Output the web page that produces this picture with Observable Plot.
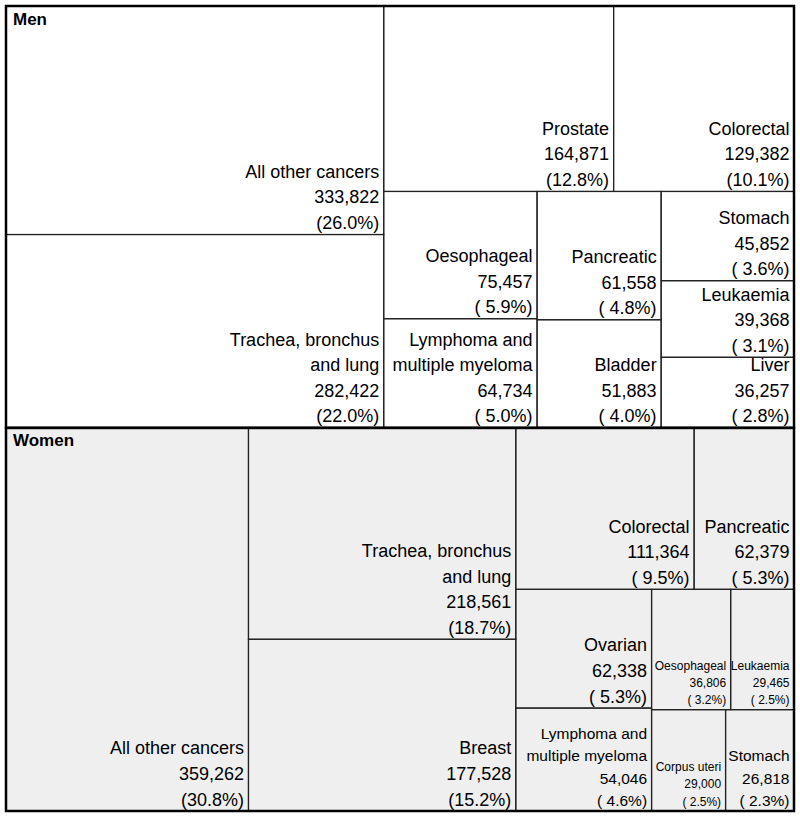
<!DOCTYPE html>
<html>
<head>
<meta charset="utf-8">
<script src="https://cdn.jsdelivr.net/npm/d3@7"></script>
<script src="https://cdn.jsdelivr.net/npm/@observablehq/plot@0.6"></script>
<style>
  body { margin: 0; background: #fff; }
</style>
</head>
<body>
<div id="chart"></div>
<script>
// ---- Data -------------------------------------------------------------
const panels = ["Men", "Women"];

const menCancers = ["All other cancers", "Trachea, bronchus\nand lung", "Prostate", "Colorectal",
  "Oesophageal", "Lymphoma and\nmultiple myeloma", "Pancreatic", "Bladder",
  "Stomach", "Leukaemia", "Liver"];
const menDeaths = [333822, 282422, 164871, 129382, 75457, 64734, 61558, 51883, 45852, 39368, 36257];
const menShares = [26.0, 22.0, 12.8, 10.1, 5.9, 5.0, 4.8, 4.0, 3.6, 3.1, 2.8];
// grouping path of each cell inside the panel (nesting of the treemap)
const menGroups = ["a", "a", "b/a", "b/a", "b/b/a", "b/b/a", "b/b/b", "b/b/b", "b/b/c", "b/b/c", "b/b/c"];

const womenCancers = ["All other cancers", "Trachea, bronchus\nand lung", "Breast", "Colorectal",
  "Pancreatic", "Ovarian", "Lymphoma and\nmultiple myeloma", "Oesophageal", "Leukaemia",
  "Corpus uteri", "Stomach"];
const womenDeaths = [359262, 218561, 177528, 111364, 62379, 62338, 54046, 36806, 29465, 29000, 26818];
const womenShares = [30.8, 18.7, 15.2, 9.5, 5.3, 5.3, 4.6, 3.2, 2.5, 2.5, 2.3];
const womenGroups = ["", "a", "a", "b/a", "b/a", "b/b/a", "b/b/a", "b/b/b/a", "b/b/b/a", "b/b/b/b", "b/b/b/b"];

// ---- Build hierarchy ----------------------------------------------------
function buildPanel(name, cancers, deaths, shares, groups) {
  const root = {name, children: []};
  cancers.forEach((c, i) => {
    let node = root;
    for (const key of groups[i].split("/").filter(Boolean)) {
      let child = node.children.find(d => d.key === key);
      if (!child) { child = {key, children: []}; node.children.push(child); }
      node = child;
    }
    node.children.push({name: c, value: deaths[i], share: shares[i], panel: name});
  });
  return root;
}

const tree = {name: "root", children: [
  buildPanel(panels[0], menCancers, menDeaths, menShares, menGroups),
  buildPanel(panels[1], womenCancers, womenDeaths, womenShares, womenGroups)
]};

const W = 788, H = 805;
const root = d3.hierarchy(tree).sum(d => d.value || 0);
d3.treemap()
  .size([W, H])
  .tile((node, x0, y0, x1, y1) =>
    (node.depth % 2 ? d3.treemapDice : d3.treemapSlice)(node, x0, y0, x1, y1))(root);

const panelNodes = root.children;
const leaves = root.leaves();

// ---- Label helpers ------------------------------------------------------
const FONT = "Liberation Sans, Arial, Helvetica, sans-serif";
const fmt = d3.format(",");
const pct = s => `(${s < 10 ? " " : ""}${s.toFixed(1)}%)`;
const labelOf = d => `${d.data.name}\n${fmt(d.data.value)}\n${pct(d.data.share)}`;

const ctx = document.createElement("canvas").getContext("2d");
ctx.font = `100px "Liberation Sans", Arial, sans-serif`;
const emWidth = s => Math.max(...s.split("\n").map(l => ctx.measureText(l).width / 100));
const fontSizeOf = d => {
  const fit = (d.x1 - d.x0 - 6) / emWidth(labelOf(d));
  return fit >= 18 ? 18 : fit >= 14 ? 15.5 : 12;
};

// ---- Plot ---------------------------------------------------------------
const chart = Plot.plot({
  width: 800,
  height: 816,
  marginLeft: 6,
  marginRight: 6,
  marginTop: 6,
  marginBottom: 5,
  x: {domain: [0, W], axis: null},
  y: {domain: [0, H], reverse: true, axis: null},
  style: {fontFamily: FONT, background: "#fff", color: "#000"},
  marks: [
    Plot.rect(panelNodes, {
      x1: d => d.x0, x2: d => d.x1, y1: d => d.y0, y2: d => d.y1,
      fill: d => d.data.name === "Women" ? "#efefef" : "#ffffff"
    }),
    Plot.text(leaves, {
      x: d => d.x1, y: d => d.y1,
      text: labelOf,
      textAnchor: "end",
      lineAnchor: "bottom",
      lineHeight: 1.42,
      dx: -5, dy: -6,
      fontSize: fontSizeOf,
      fill: "#000"
    }),
    Plot.rect(leaves, {
      x1: d => d.x0, x2: d => d.x1, y1: d => d.y0, y2: d => d.y1,
      fill: "none", stroke: "#222", strokeWidth: 1.2
    }),
    Plot.rect(panelNodes, {
      x1: d => d.x0, x2: d => d.x1, y1: d => d.y0, y2: d => d.y1,
      fill: "none", stroke: "#000", strokeWidth: 2.5
    }),
    Plot.text(panelNodes, {
      x: d => d.x0, y: d => d.y0,
      text: d => d.data.name,
      textAnchor: "start",
      lineAnchor: "top",
      dx: 6.5, dy: 6,
      fontSize: 17,
      fontWeight: "bold",
      fill: "#000"
    })
  ]
});

document.getElementById("chart").appendChild(chart);
</script>
</body>
</html>
